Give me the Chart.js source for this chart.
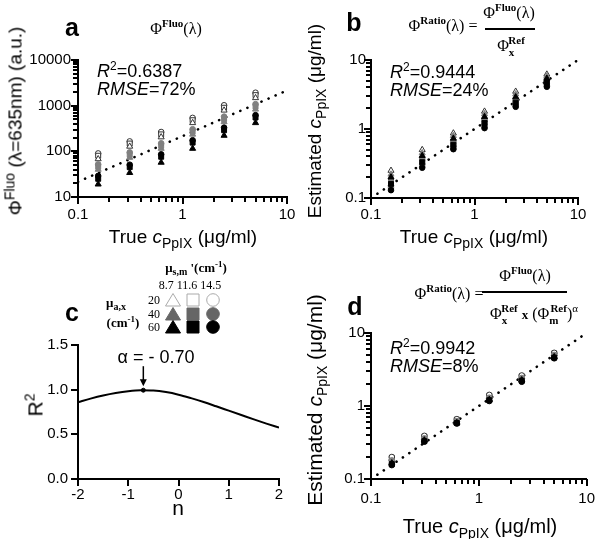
<!DOCTYPE html>
<html>
<head>
<meta charset="utf-8">
<script src="https://cdn.jsdelivr.net/npm/chart.js@4.4.1/dist/chart.umd.min.js"></script>
<style>
  body { margin: 0; background: #fff; }
  #wrap { position: relative; width: 600px; height: 539px; overflow: hidden;
          font-family: "Liberation Sans", Arial, sans-serif; color: #000; }
  canvas { position: absolute; }
  .t { position: absolute; white-space: nowrap; line-height: 1; z-index: 2; }
  .c { transform: translate(-50%, -50%); }
  .rot { transform: translate(-50%, -50%) rotate(-90deg); }
  .lbl { font-weight: bold; font-size: 25px; }
  .serif { font-family: "Liberation Serif", "Times New Roman", serif; }
  .stat { font-size: 18px; line-height: 16px; }
  .stat .s2 { font-size: 12px; position: relative; top: -7px; }
  .sb { font-size: 14px; position: relative; top: 5px; }
  .fs { font-size: 11px; font-weight: bold; position: relative; top: -7px; }
  .fsub { font-size: 11px; font-weight: bold; position: relative; top: 5px; }
  .bar { position: absolute; height: 0; border-top: 2px solid #000; z-index: 2; }
  .lg { font-size: 13px; }
  .lg .lsub { font-size: 10px; position: relative; top: 3px; }
  .lg .lsup { font-size: 9px; position: relative; top: -5px; }
</style>
</head>
<body>
<div id="wrap">
  <canvas id="chartA" width="300" height="270" style="left:0;top:0"></canvas>
  <canvas id="chartB" width="300" height="270" style="left:300px;top:0"></canvas>
  <canvas id="chartC" width="300" height="269" style="left:0;top:270px"></canvas>
  <canvas id="chartD" width="300" height="269" style="left:300px;top:270px"></canvas>

  <!-- panel a -->
  <div class="t c lbl" style="left:72px;top:27px">a</div>
  <div class="t c serif" style="left:176px;top:29px;font-size:16px">Φ<span class="fs">Fluo</span>(λ)</div>
  <div class="t stat" style="left:97px;top:63px"><i>R</i><span class="s2">2</span>=0.6387<br><i>RMSE</i>=72%</div>
  <div class="t c" style="left:183px;top:236px;font-size:19px">True <i>c</i><span class="sb">PpIX</span> (μg/ml)</div>
  <div class="t rot" style="left:15px;top:121px;font-size:19px">Φ<span style="font-size:14px;position:relative;top:-7px">Fluo</span> (λ=635nm) (a.u.)</div>

  <!-- panel b -->
  <div class="t c lbl" style="left:354px;top:22px">b</div>
  <div class="t c serif" style="left:443px;top:26px;font-size:16px">Φ<span class="fs">Ratio</span>(λ) =</div>
  <div class="t c serif" style="left:509px;top:13px;font-size:16px">Φ<span class="fs">Fluo</span>(λ)</div>
  <div class="bar" style="left:485px;top:28px;width:50px"></div>
  <div class="t c serif" style="left:511px;top:46px;font-size:16px">Φ<span class="fsub">x</span><span class="fs" style="margin-left:-6px">Ref</span></div>
  <div class="t stat" style="left:390px;top:64px"><i>R</i><span class="s2">2</span>=0.9444<br><i>RMSE</i>=24%</div>
  <div class="t c" style="left:474px;top:236px;font-size:19px">True <i>c</i><span class="sb">PpIX</span> (μg/ml)</div>
  <div class="t rot" style="left:314px;top:121px;font-size:19px">Estimated <i>c</i><span class="sb">PpIX</span> (μg/ml)</div>

  <!-- panel c -->
  <div class="t c lbl" style="left:72px;top:312px">c</div>
  <div class="t c serif lg" style="left:196px;top:267px;font-weight:bold">μ<span class="lsub">s,m</span> '(cm<span class="lsup">-1</span>)</div>
  <div class="t c serif lg" style="left:190px;top:285px;font-size:12px">8.7 11.6 14.5</div>
  <div class="t c serif lg" style="left:116px;top:302px;font-weight:bold">μ<span class="lsub">a,x</span></div>
  <div class="t c serif lg" style="left:123px;top:322px;font-weight:bold">(cm<span class="lsup">-1</span>)</div>
  <div class="t c serif lg" style="left:154px;top:300px;font-size:12px">20</div>
  <div class="t c serif lg" style="left:154px;top:314px;font-size:12px">40</div>
  <div class="t c serif lg" style="left:154px;top:327px;font-size:12px">60</div>
  <div class="t c" style="left:156px;top:357px;font-size:18px">α = - 0.70</div>
  <div class="t c" style="left:178px;top:507px;font-size:21px">n</div>
  <div class="t rot" style="left:35px;top:405px;font-size:21px">R<span style="font-size:14px;position:relative;top:-8px">2</span></div>

  <!-- panel d -->
  <div class="t c lbl" style="left:355px;top:306px">d</div>
  <div class="t c serif" style="left:449px;top:294px;font-size:16px">Φ<span class="fs">Ratio</span>(λ) =</div>
  <div class="t c serif" style="left:525px;top:276px;font-size:16px">Φ<span class="fs">Fluo</span>(λ)</div>
  <div class="bar" style="left:482px;top:291px;width:85px"></div>
  <div class="t c serif" style="left:534px;top:314px;font-size:16px">Φ<span class="fsub">x</span><span class="fs" style="margin-left:-6px">Ref</span> <b style="font-size:13px">x</b> (Φ<span class="fsub">m</span><span class="fs" style="margin-left:-8px">Ref</span>)<span style="font-size:11px;position:relative;top:-7px">α</span></div>
  <div class="t stat" style="left:390px;top:340px"><i>R</i><span class="s2">2</span>=0.9942<br><i>RMSE</i>=8%</div>
  <div class="t c" style="left:480px;top:526px;font-size:20px">True <i>c</i><span class="sb">PpIX</span> (μg/ml)</div>
  <div class="t rot" style="left:314px;top:400px;font-size:21px">Estimated <i>c</i><span class="sb">PpIX</span> (μg/ml)</div>
</div>

<script>
// concentrations of the phantom dilution series (µg/ml)
const conc = [0.156, 0.3125, 0.625, 1.25, 2.5, 5];

// panel a: raw fluorescence (a.u.)
const aTri20 = [68, 128, 205, 420, 790, 1480];
const aSq20 = [80, 148, 235, 480, 900, 1700];
const aCir20 = [90, 165, 265, 540, 1020, 1920];
const aTri40 = [40, 73, 115, 235, 440, 830];
const aSq40 = [46, 84, 132, 270, 505, 950];
const aCir40 = [52, 95, 150, 305, 575, 1080];
const aTri60 = [19, 34, 57, 115, 222, 420];
const aSq60 = [25, 45, 76, 155, 290, 550];
const aCir60 = [29, 51, 86, 175, 330, 620];
const aFitX = [0.1, 10];
const aFitY = [21.5, 2150];

// panel b: estimated concentration, ratio method
const bTri20 = [0.25, 0.50, 0.87, 1.80, 3.50, 6.2];
const bTri40 = [0.22, 0.45, 0.80, 1.65, 3.20, 5.8];
const bTri60 = [0.20, 0.41, 0.73, 1.50, 2.90, 5.4];
const bSq20 = [0.18, 0.37, 0.65, 1.35, 2.65, 5.1];
const bSq40 = [0.17, 0.35, 0.62, 1.28, 2.50, 4.9];
const bSq60 = [0.16, 0.33, 0.59, 1.22, 2.40, 4.7];
const bCir20 = [0.15, 0.31, 0.56, 1.15, 2.30, 4.5];
const bCir40 = [0.14, 0.29, 0.53, 1.09, 2.20, 4.3];
const bCir60 = [0.13, 0.275, 0.51, 1.03, 2.10, 4.1];
const bFitX = [0.1, 10];
const bFitY = [0.1, 10];

// panel c: R^2 vs exponent n
const cN = [-2, -1.75, -1.5, -1.25, -1, -0.75, -0.5, -0.25, 0, 0.25, 0.5, 0.75, 1, 1.25, 1.5, 1.75, 2];
const cR2 = [0.86, 0.90, 0.935, 0.963, 0.983, 0.993, 0.99, 0.973, 0.944, 0.905, 0.862, 0.814, 0.765, 0.716, 0.667, 0.62, 0.575];
const peakN = [-0.7];
const peakR2 = [0.994];

// panel d: estimated concentration, corrected ratio
const dCir20 = [0.20, 0.39, 0.66, 1.42, 2.62, 5.35];
const dSq20 = [0.195, 0.38, 0.65, 1.38, 2.55, 5.25];
const dTri20 = [0.19, 0.37, 0.64, 1.34, 2.50, 5.15];
const dCir40 = [0.18, 0.36, 0.62, 1.30, 2.42, 5.0];
const dSq40 = [0.175, 0.35, 0.61, 1.27, 2.37, 4.9];
const dTri40 = [0.17, 0.345, 0.60, 1.24, 2.32, 4.8];
const dTri60 = [0.165, 0.34, 0.59, 1.22, 2.27, 4.7];
const dSq60 = [0.16, 0.33, 0.585, 1.20, 2.22, 4.6];
const dCir60 = [0.155, 0.325, 0.575, 1.17, 2.15, 4.5];
const dFitX = [0.1, 10];
const dFitY = [0.1, 10];

// tick labels
const concTicks = [0.1, 1, 10];
const aYTicks = [10, 100, 1000, 10000];
const estTicks = [0.1, 1, 10];
const cXTicks = [-2, -1, 0, 1, 2];
const cYTicks = [0, 0.5, 1, 1.5];

Chart.defaults.font.family = '"Liberation Sans", Arial, sans-serif';
Chart.defaults.font.size = 15;
Chart.defaults.color = '#000';

const WHITE = { fill: '#fff', stroke: '#333' };
const GRAY = { fill: '#808080', stroke: '#808080' };
const BLACK = { fill: '#000', stroke: '#000' };

function series(ys, style, col) {
  return {
    type: 'scatter',
    data: conc.map((x, i) => ({ x: x, y: ys[i] })),
    pointStyle: style,
    pointRadius: style === 'circle' ? 2.8 : 3.5,
    backgroundColor: col.fill,
    borderColor: col.stroke,
    borderWidth: 1
  };
}

function fitLine(xs, ys) {
  return {
    type: 'line',
    data: xs.map((x, i) => ({ x: x, y: ys[i] })),
    borderColor: '#000',
    borderWidth: 2.6,
    borderDash: [0.1, 7.6],
    borderCapStyle: 'round',
    pointRadius: 0,
    fill: false
  };
}

// 1..9 per decade between the first and last label, decades are long ticks
function decadeMarks(labels) {
  const out = [];
  const lo = Math.round(Math.log10(labels[0]));
  const hi = Math.round(Math.log10(labels[labels.length - 1]));
  for (let e = lo; e <= hi; e++) {
    for (let k = 1; k <= 9; k++) {
      if (e === hi && k > 1) break;
      out.push({ value: k * Math.pow(10, e), minor: k !== 1 });
    }
  }
  return out;
}

function plainMarks(labels) {
  return labels.map(v => ({ value: v, minor: false }));
}

function labelOf(list, fmt) {
  return v => {
    const hit = list.find(l => Math.abs(l - v) <= Math.abs(l) * 1e-6 + 1e-9);
    return hit === undefined ? '' : (fmt ? fmt(hit) : String(hit));
  };
}

function logAxis(min, max, labels, size, tl, pad) {
  return {
    type: 'logarithmic',
    min: min,
    max: max,
    afterBuildTicks: s => { s.ticks = labels.map(v => ({ value: v })); },
    afterFit: s => { if (s.axis === 'x') s.height = size; else s.width = size; },
    grid: { drawOnChartArea: false, drawTicks: true, tickLength: tl, tickColor: 'rgba(0,0,0,0)' },
    border: { display: true, color: '#000', width: 2 },
    ticks: { autoSkip: false, maxRotation: 0, padding: pad, callback: labelOf(labels) }
  };
}

// own tick marks: long for labelled ticks, short for minor ones
function tickMarks(xMarks, yMarks, bigLen) {
  return {
    id: 'tickMarks',
    afterDraw(chart) {
      const ctx = chart.ctx;
      const area = chart.chartArea;
      const sx = chart.scales.x;
      const sy = chart.scales.y;
      ctx.save();
      ctx.strokeStyle = '#000';
      ctx.lineWidth = 2;
      xMarks.forEach(t => {
        const len = t.minor ? 5 : bigLen;
        const p = Math.round(sx.getPixelForValue(t.value));
        ctx.beginPath();
        ctx.moveTo(p, area.bottom);
        ctx.lineTo(p, area.bottom + len);
        ctx.stroke();
      });
      yMarks.forEach(t => {
        const len = t.minor ? 5 : bigLen;
        const p = Math.round(sy.getPixelForValue(t.value));
        ctx.beginPath();
        ctx.moveTo(area.left, p);
        ctx.lineTo(area.left - len, p);
        ctx.stroke();
      });
      ctx.restore();
    }
  };
}

function baseOptions(pad, x, y) {
  return {
    responsive: false,
    animation: false,
    devicePixelRatio: 1,
    layout: { padding: pad },
    plugins: { legend: { display: false }, tooltip: { enabled: false } },
    scales: { x: x, y: y }
  };
}

// 1. PANEL A
new Chart(document.getElementById('chartA'), {
  type: 'scatter',
  data: {
    datasets: [
      series(aTri60, 'triangle', BLACK), series(aSq60, 'rect', BLACK), series(aCir60, 'circle', BLACK),
      series(aTri40, 'triangle', GRAY), series(aSq40, 'rect', GRAY), series(aCir40, 'circle', GRAY),
      series(aTri20, 'triangle', WHITE), series(aSq20, 'rect', WHITE), series(aCir20, 'circle', WHITE),
      fitLine(aFitX, aFitY)
    ]
  },
  options: baseOptions({ left: 0, right: 13, top: 60, bottom: 0 },
    logAxis(0.1, 10, concTicks, 73, 6, 3),
    logAxis(10, 10000, aYTicks, 78, 6, 1)),
  plugins: [tickMarks(decadeMarks(concTicks), decadeMarks(aYTicks), 7)]
});

// 2. PANEL B
new Chart(document.getElementById('chartB'), {
  type: 'scatter',
  data: {
    datasets: [
      series(bCir60, 'circle', BLACK), series(bSq60, 'rect', BLACK), series(bTri60, 'triangle', BLACK),
      series(bCir40, 'circle', GRAY), series(bSq40, 'rect', GRAY), series(bTri40, 'triangle', GRAY),
      series(bCir20, 'circle', WHITE), series(bSq20, 'rect', WHITE), series(bTri20, 'triangle', WHITE),
      fitLine(bFitX, bFitY)
    ]
  },
  options: baseOptions({ left: 0, right: 22, top: 60, bottom: 0 },
    logAxis(0.1, 10, concTicks, 72, 6, 2),
    logAxis(0.1, 10, estTicks, 71, 5, 0)),
  plugins: [tickMarks(decadeMarks(concTicks), decadeMarks(estTicks), 7)]
});

// 3. PANEL C
const legendRows = [WHITE, { fill: '#666', stroke: '#666' }, BLACK];
const cExtras = {
  id: 'cExtras',
  afterDraw(chart) {
    const ctx = chart.ctx;
    // arrow pointing at the optimum
    const px = chart.scales.x.getPixelForValue(peakN[0]);
    const py = chart.scales.y.getPixelForValue(peakR2[0]);
    ctx.save();
    ctx.strokeStyle = '#000';
    ctx.fillStyle = '#000';
    ctx.lineWidth = 1.5;
    ctx.beginPath();
    ctx.moveTo(px, py - 24);
    ctx.lineTo(px, py - 9);
    ctx.stroke();
    ctx.beginPath();
    ctx.moveTo(px - 3.5, py - 11);
    ctx.lineTo(px + 3.5, py - 11);
    ctx.lineTo(px, py - 4);
    ctx.closePath();
    ctx.fill();
    // symbol key
    const rowsY = [30, 44, 57];
    legendRows.forEach((col, r) => {
      const y = rowsY[r];
      ctx.fillStyle = col.fill;
      ctx.strokeStyle = r === 0 ? '#aaa' : col.stroke;
      ctx.lineWidth = 1;
      ctx.beginPath();
      ctx.moveTo(173, y - 6.5);
      ctx.lineTo(180.5, y + 6);
      ctx.lineTo(165.5, y + 6);
      ctx.closePath();
      ctx.fill(); ctx.stroke();
      ctx.beginPath();
      ctx.rect(187, y - 6, 12, 12);
      ctx.fill(); ctx.stroke();
      ctx.beginPath();
      ctx.arc(213, y, 6.3, 0, Math.PI * 2);
      ctx.fill(); ctx.stroke();
    });
    ctx.restore();
  }
};

function linAxis(min, max, step, labels, size, tl, pad, fmt) {
  return {
    type: 'linear',
    min: min,
    max: max,
    ticks: { stepSize: step, autoSkip: false, maxRotation: 0, padding: pad, callback: labelOf(labels, fmt) },
    afterFit: s => { if (s.axis === 'x') s.height = size; else s.width = size; },
    grid: { drawOnChartArea: false, drawTicks: true, tickLength: tl, tickColor: 'rgba(0,0,0,0)' },
    border: { display: true, color: '#000', width: 2 }
  };
}

new Chart(document.getElementById('chartC'), {
  type: 'scatter',
  data: {
    datasets: [
      {
        type: 'scatter',
        data: peakN.map((x, i) => ({ x: x, y: peakR2[i] })),
        pointRadius: 2,
        backgroundColor: '#000',
        borderColor: '#000'
      },
      {
        type: 'line',
        data: cN.map((x, i) => ({ x: x, y: cR2[i] })),
        borderColor: '#000',
        borderWidth: 2,
        tension: 0.4,
        cubicInterpolationMode: 'monotone',
        pointRadius: 0,
        fill: false
      }
    ]
  },
  options: baseOptions({ left: 0, right: 21, top: 75, bottom: 0 },
    linAxis(-2, 2, 1, cXTicks, 60, 6, 1),
    linAxis(0, 1.5, 0.5, cYTicks, 78, 6, 4, v => v.toFixed(1))),
  plugins: [tickMarks(plainMarks(cXTicks), plainMarks(cYTicks), 7), cExtras]
});

// 4. PANEL D
new Chart(document.getElementById('chartD'), {
  type: 'scatter',
  data: {
    datasets: [
      series(dCir60, 'circle', BLACK), series(dSq60, 'rect', BLACK), series(dTri60, 'triangle', BLACK),
      series(dCir40, 'circle', GRAY), series(dSq40, 'rect', GRAY), series(dTri40, 'triangle', GRAY),
      series(dCir20, 'circle', WHITE), series(dSq20, 'rect', WHITE), series(dTri20, 'triangle', WHITE),
      fitLine(dFitX, dFitY)
    ]
  },
  options: baseOptions({ left: 0, right: 11, top: 63, bottom: 0 },
    logAxis(0.1, 10, concTicks, 60, 6, 5),
    logAxis(0.1, 10, estTicks, 71, 6, 0)),
  plugins: [tickMarks(decadeMarks(concTicks), decadeMarks(estTicks), 7)]
});
</script>
</body>
</html>
